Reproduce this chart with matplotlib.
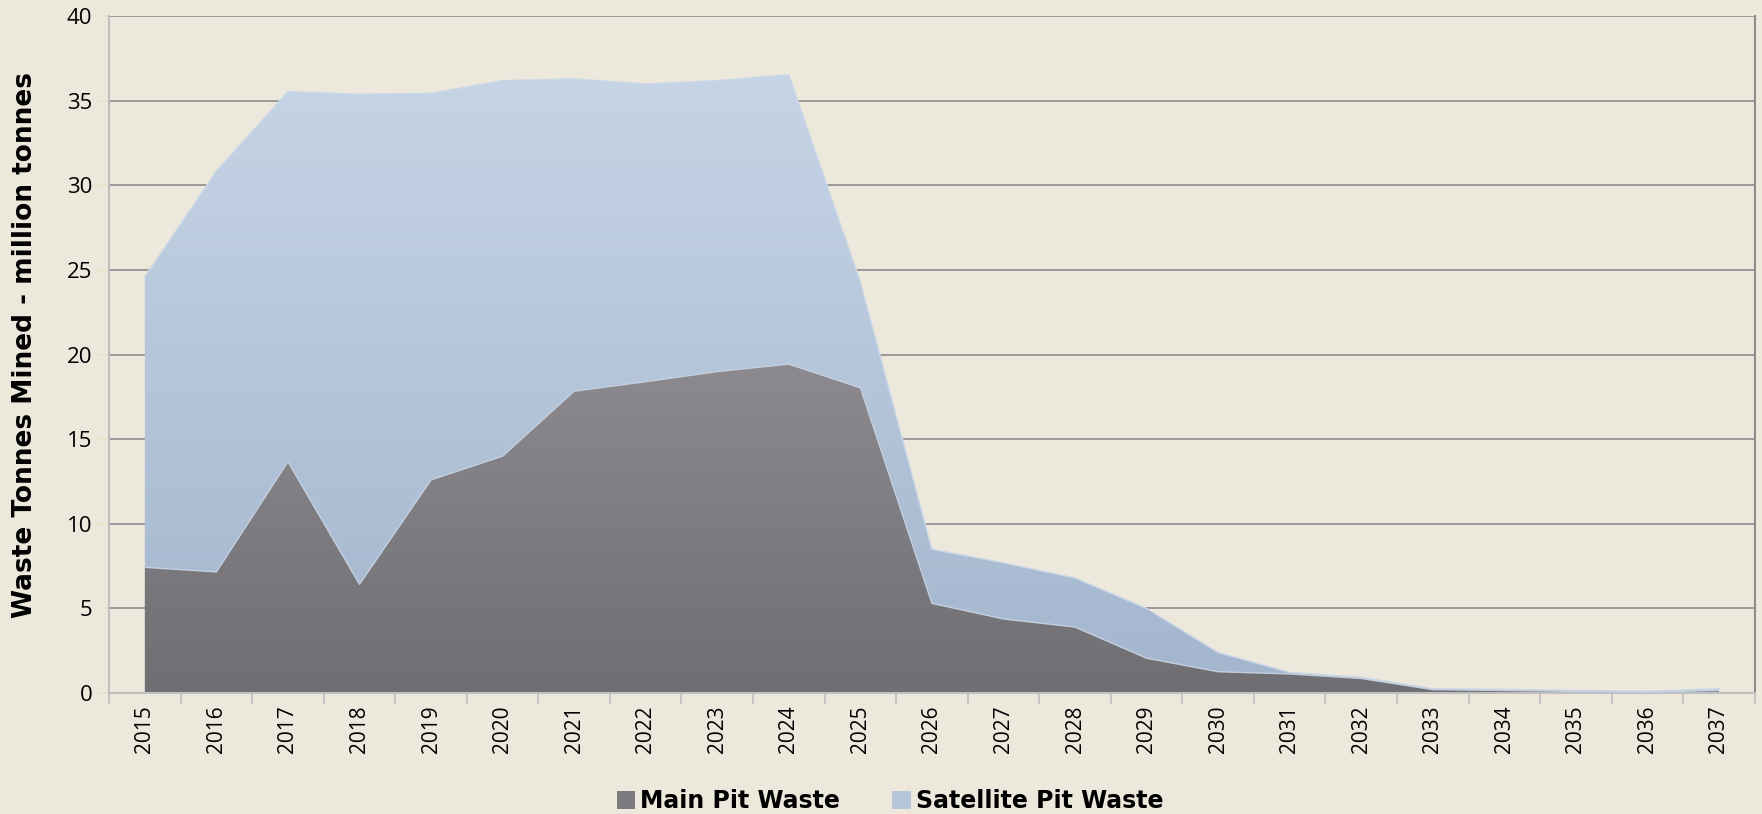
import numpy as np
import matplotlib
matplotlib.use("Agg")
from matplotlib import pyplot as plt
from matplotlib.patches import Patch

anos = [str(a) for a in range(2015, 2038)]
main_pit = [7.43, 7.16, 13.67, 6.43, 12.6, 14.0, 17.84, 18.4, 19.0, 19.44, 18.04,
            5.3, 4.38, 3.9, 2.06, 1.26, 1.13, 0.86, 0.2, 0.15, 0.1, 0.05, 0.15]
total = [24.6, 30.85, 35.55, 35.4, 35.45, 36.2, 36.3, 36.0, 36.2, 36.55, 24.3,
         8.5, 7.7, 6.8, 5.0, 2.4, 1.22, 0.93, 0.25, 0.22, 0.15, 0.1, 0.25]
satellite = [t - m for t, m in zip(total, main_pit)]

fundo = "#ECE8DC"
fig = plt.figure(figsize=(17.62, 8.14), dpi=100, facecolor=fundo)
ax = fig.add_axes([0.0619, 0.1486, 0.934, 0.8314])
ax.set_facecolor(fundo)

x = np.arange(len(anos))
m = np.array(main_pit)
s = np.array(satellite)

def area_gradiente(y0, y1, c_topo, c_base, ytop):
    poly = ax.fill_between(x, y0, y1, facecolor="none", edgecolor="none", zorder=2)
    c1 = np.array(matplotlib.colors.to_rgb(c_topo))
    c2 = np.array(matplotlib.colors.to_rgb(c_base))
    t = np.linspace(0, 1, 256)[:, None]
    grad = (c1 * (1 - t) + c2 * t)[:, None, :]
    grad = np.repeat(grad, 2, axis=1)
    im = ax.imshow(grad, extent=[-0.5, len(anos) - 0.5, 0, ytop], aspect="auto",
                   origin="upper", zorder=2, interpolation="bilinear")
    im.set_clip_path(poly.get_paths()[0], transform=ax.transData)

area_gradiente(m, m + s, "#C6D4E5", "#A3B6CE", max(m + s))
area_gradiente(0, m, "#8C8A8F", "#6F6E73", max(m))
ax.plot(x, m + s, color="#CCD8E7", lw=1, zorder=3)
ax.plot(x, m, color="#C4D0E0", lw=1, zorder=3)

ax.set_xlim(-0.5, len(anos) - 0.5)
ax.set_ylim(0, 40)
ax.set_yticks(range(0, 41, 5))
ax.yaxis.grid(True, color="#8C8C8C", lw=1.2, zorder=1)
ax.set_axisbelow(True)

ax.set_xticks(np.arange(-0.5, len(anos)), labels=[])
ax.set_xticks(x, labels=anos, minor=True, rotation=90)
ax.tick_params(axis="x", which="major", length=8, color="#BFBFBF", width=1.2)
ax.tick_params(axis="x", which="minor", length=0, pad=9, labelsize=15)
ax.tick_params(axis="y", length=8, color="#E8E4C0", width=1.2, labelsize=16, pad=4)
for lab in ax.get_xticklabels(minor=True) + ax.get_yticklabels():
    lab.set_fontfamily("Open Sans")

for lado in ["left", "bottom"]:
    ax.spines[lado].set_color("#BFBFBF")
    ax.spines[lado].set_linewidth(1.5)
ax.spines["top"].set_visible(False)
ax.spines["right"].set_color("#8C8C8C")
ax.spines["right"].set_linewidth(1.5)

ax.set_ylabel("Waste Tonnes Mined - million tonnes", fontsize=19, fontweight="bold")
ax.yaxis.set_label_coords(-0.043, 0.515)

handles = [Patch(facecolor="#7B7A7F", edgecolor="none"),
           Patch(facecolor="#B5C5DA", edgecolor="none")]
fig.legend(handles, ["Main Pit Waste", "Satellite Pit Waste"], loc="lower center",
           bbox_to_anchor=(0.505, -0.025), ncol=2, frameon=False,
           prop={"weight": "bold", "size": 17}, handlelength=0.8, handleheight=0.8,
           handletextpad=0.2, columnspacing=2.2)

plt.savefig("out.png", dpi=100, facecolor=fundo)
